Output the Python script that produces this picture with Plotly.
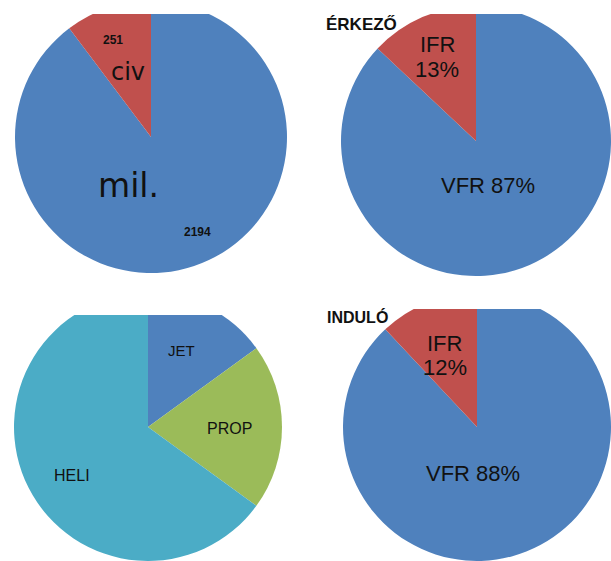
import plotly.graph_objects as go

# ---- data ----
origin_labels = ["mil.", "civ"]
origin_values = [2194, 251]

arrive_title = "ÉRKEZŐ"
arrive_labels = ["VFR", "IFR"]
arrive_values = [87, 13]

depart_title = "INDULÓ"
depart_labels = ["VFR", "IFR"]
depart_values = [88, 12]

type_labels = ["JET", "PROP", "HELI"]
type_values = [15, 20, 65]

BLUE = "#4F81BD"
RED = "#C0504D"
GREEN = "#9BBB59"
TEAL = "#4BACC6"

W, H = 611, 561


def px_x(p):
    return p / W


def px_y(p):
    return 1 - p / H


def dom(x0, x1, y0, y1):
    return dict(x=[px_x(x0), px_x(x1)], y=[px_y(y1), px_y(y0)])


fig = go.Figure()

common = dict(sort=False, direction="clockwise", rotation=0, textinfo="none",
              hoverinfo="label+value", showlegend=False)

fig.add_trace(go.Pie(labels=origin_labels, values=origin_values,
                     marker=dict(colors=[BLUE, RED], line=dict(width=0)),
                     domain=dom(15, 287, 1, 273), **common))
fig.add_trace(go.Pie(labels=arrive_labels, values=arrive_values,
                     marker=dict(colors=[BLUE, RED], line=dict(width=0)),
                     domain=dom(341, 611, 6, 276), **common))
fig.add_trace(go.Pie(labels=type_labels, values=type_values,
                     marker=dict(colors=[BLUE, GREEN, TEAL], line=dict(width=0)),
                     domain=dom(14, 282, 293, 561), **common))
fig.add_trace(go.Pie(labels=depart_labels, values=depart_values,
                     marker=dict(colors=[BLUE, RED], line=dict(width=0)),
                     domain=dom(343, 611, 293, 561), **common))

# white strips that crop the pies like the reference picture
shapes = []
for (x0, x1, y0, y1) in [(0, W, 0, 14), (0, 305, 278, 315), (305, W, 278, 309)]:
    shapes.append(dict(type="rect", xref="paper", yref="paper", layer="above",
                       x0=px_x(x0), x1=px_x(x1), y0=px_y(y1), y1=px_y(y0),
                       fillcolor="white", line=dict(width=0)))

TXT = "#111111"
FONT = "Liberation Sans, Arial, sans-serif"


def ann(text, x, y, size, bold=False, font=FONT):
    t = f"<b>{text}</b>" if bold else text
    return dict(text=t, x=px_x(x), y=px_y(y), xref="paper", yref="paper",
                showarrow=False, xanchor="center", yanchor="middle",
                font=dict(size=size, color=TXT, family=font))


annotations = [
    ann(str(origin_values[1]), 113, 40, 12, bold=True),
    ann(origin_labels[1], 128, 72, 24, font="DejaVu Sans, sans-serif"),
    ann(origin_labels[0], 128, 185, 33, font="DejaVu Sans, sans-serif"),
    ann(str(origin_values[0]), 197, 232, 12, bold=True),

    ann(arrive_title, 361, 25, 17, bold=True),
    ann(arrive_labels[1], 437, 45, 22),
    ann(f"{arrive_values[1]}%", 437, 70, 22),
    ann(f"{arrive_labels[0]} {arrive_values[0]}%", 488, 185, 22),

    ann(type_labels[0], 181, 350, 15),
    ann(type_labels[1], 229, 428, 16),
    ann(type_labels[2], 72, 475, 16),

    ann(depart_title, 357, 317, 16, bold=True),
    ann(depart_labels[1], 445, 343, 22),
    ann(f"{depart_values[1]}%", 445, 367, 22),
    ann(f"{depart_labels[0]} {depart_values[0]}%", 473, 473, 22),
]

fig.update_layout(width=W, height=H, margin=dict(l=0, r=0, t=0, b=0),
                  paper_bgcolor="white", plot_bgcolor="white",
                  shapes=shapes, annotations=annotations)

fig.write_html("out.html")
